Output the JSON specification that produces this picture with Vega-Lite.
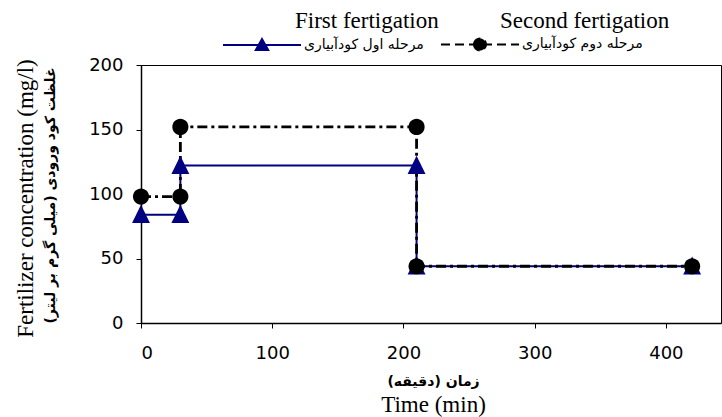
{
  "$schema": "https://vega.github.io/schema/vega-lite/v6.json",
  "width": 580,
  "height": 258,
  "autosize": {"type": "none"},
  "padding": {"left": 141, "top": 65, "right": 1, "bottom": 94},
  "background": "white",
  "config": {
    "view": {"stroke": "#000", "strokeWidth": 1},
    "axis": {"grid": false, "domainColor": "#000", "tickColor": "#000", "labelColor": "#000", "titleColor": "#000"}
  },
  "data": {
    "values": [
      {"t": 0, "c": 84, "step": 1, "fa": "مرحله اول کودآبیاری", "en": "First fertigation"},
      {"t": 30, "c": 84, "step": 2, "fa": "مرحله اول کودآبیاری", "en": "First fertigation"},
      {"t": 30, "c": 122, "step": 3, "fa": "مرحله اول کودآبیاری", "en": "First fertigation"},
      {"t": 210, "c": 122, "step": 4, "fa": "مرحله اول کودآبیاری", "en": "First fertigation"},
      {"t": 210, "c": 44, "step": 5, "fa": "مرحله اول کودآبیاری", "en": "First fertigation"},
      {"t": 420, "c": 44, "step": 6, "fa": "مرحله اول کودآبیاری", "en": "First fertigation"},
      {"t": 0, "c": 98, "step": 1, "fa": "مرحله دوم  کودآبیاری", "en": "Second fertigation"},
      {"t": 30, "c": 98, "step": 2, "fa": "مرحله دوم  کودآبیاری", "en": "Second fertigation"},
      {"t": 30, "c": 152, "step": 3, "fa": "مرحله دوم  کودآبیاری", "en": "Second fertigation"},
      {"t": 210, "c": 152, "step": 4, "fa": "مرحله دوم  کودآبیاری", "en": "Second fertigation"},
      {"t": 210, "c": 44, "step": 5, "fa": "مرحله دوم  کودآبیاری", "en": "Second fertigation"},
      {"t": 420, "c": 44, "step": 6, "fa": "مرحله دوم  کودآبیاری", "en": "Second fertigation"}
    ]
  },
  "layer": [
    {
      "mark": {"type": "line", "clip": false},
      "encoding": {
        "x": {"field": "t", "type": "quantitative",
          "scale": {"domain": [0, 442], "nice": false, "zero": false},
          "axis": {"orient": "bottom", "values": [0, 100, 200, 300, 400], "tickSize": 5, "domainWidth": 1.5,
            "labelFont": "DejaVu Sans", "labelFontSize": 18, "labelPadding": 16,
            "title": "Time (min)", "titleFont": "Liberation Serif", "titleFontSize": 23, "titleFontWeight": "normal",
            "titleX": 292, "titleY": 81, "titleBaseline": "middle", "titleAlign": "center"}},
        "y": {"field": "c", "type": "quantitative",
          "scale": {"domain": [0, 200], "nice": false},
          "axis": {"orient": "left", "values": [0, 50, 100, 150, 200], "tickSize": 5, "domainWidth": 1.5,
            "labelFont": "DejaVu Sans", "labelFontSize": 18, "labelPadding": 13,
            "title": "Fertilizer concentration (mg/l)", "titleFont": "Liberation Serif", "titleFontSize": 23, "titleFontWeight": "normal",
            "titleAngle": -90, "titleX": -116, "titleY": 133, "titleBaseline": "middle", "titleAlign": "center"}},
        "order": {"field": "step", "type": "quantitative"},
        "color": {"field": "fa", "type": "nominal",
          "scale": {"domain": ["مرحله اول کودآبیاری", "مرحله دوم  کودآبیاری"], "range": ["#000080", "#000000"]},
          "legend": null},
        "strokeDash": {"field": "fa", "type": "nominal",
          "scale": {"domain": ["مرحله اول کودآبیاری", "مرحله دوم  کودآبیاری"], "range": [[1, 0], [10, 4, 3, 4]]},
          "legend": null},
        "strokeWidth": {"field": "fa", "type": "nominal",
          "scale": {"domain": ["مرحله اول کودآبیاری", "مرحله دوم  کودآبیاری"], "range": [2, 2.8]},
          "legend": null},
        "opacity": {"field": "en", "type": "nominal",
          "scale": {"domain": ["First fertigation", "Second fertigation"], "range": [1, 1]},
          "legend": {"orient": "none", "direction": "horizontal", "legendX": 131, "legendY": -56, "title": null,
            "symbolSize": 0, "symbolOpacity": 0, "labelOffset": 0, "labelFont": "Liberation Serif", "labelFontSize": 23,
            "labelColor": "#000", "columnPadding": 38, "labelLimit": 300}}
      }
    },
    {
      "mark": {"type": "point", "filled": true, "clip": false, "strokeWidth": 0, "size": 320, "opacity": 1},
      "encoding": {
        "x": {"field": "t", "type": "quantitative",
          "axis": {"orient": "bottom", "labels": false, "ticks": false, "domain": false,
            "title": "زمان (دقیقه)", "titleFont": "DejaVu Sans", "titleFontSize": 14, "titleFontWeight": "bold",
            "titleX": 292, "titleY": 58, "titleBaseline": "middle", "titleAlign": "center"}},
        "y": {"field": "c", "type": "quantitative",
          "axis": {"orient": "left", "labels": false, "ticks": false, "domain": false,
            "title": "غلظت کود ورودی   (میلی گرم بر لیتر)", "titleFont": "DejaVu Sans", "titleFontSize": 14, "titleFontWeight": "bold",
            "titleAngle": -90, "titleX": -91, "titleY": 130, "titleBaseline": "middle", "titleAlign": "center"}},
        "color": {"field": "fa", "type": "nominal",
          "legend": {"orient": "none", "direction": "horizontal", "legendX": 81, "legendY": -61, "title": null,
            "symbolSize": 6084, "labelFont": "DejaVu Sans", "labelFontSize": 14, "labelColor": "#000",
            "labelOffset": 2, "columnPadding": 13, "labelLimit": 300,
            "symbolType": {"expr": "datum.index == 0 ? 'M-1,0H1M-0.16,0.13L0,-0.15L0.16,0.13Z' : 'M-1,0H1M-0.155,0A0.155,0.155,0,1,0,0.155,0A0.155,0.155,0,1,0,-0.155,0Z'"},
            "symbolStrokeColor": {"expr": "datum.index == 0 ? '#000080' : '#000000'"},
            "symbolDash": {"expr": "datum.index == 0 ? [1,0] : [9,5]"},
            "symbolStrokeWidth": 2,
            "symbolOpacity": 1}},
        "shape": {"field": "en", "type": "nominal",
          "scale": {"domain": ["First fertigation", "Second fertigation"],
            "range": ["M-1,0.93L0,-1.1L1,0.93Z", "M-0.9,0A0.9,0.9,0,1,0,0.9,0A0.9,0.9,0,1,0,-0.9,0Z"]},
          "legend": null}
      }
    }
  ],
  "resolve": {
    "axis": {"x": "independent", "y": "independent"},
    "legend": {"color": "independent", "shape": "independent", "opacity": "independent", "strokeDash": "independent", "strokeWidth": "independent"}
  }
}
